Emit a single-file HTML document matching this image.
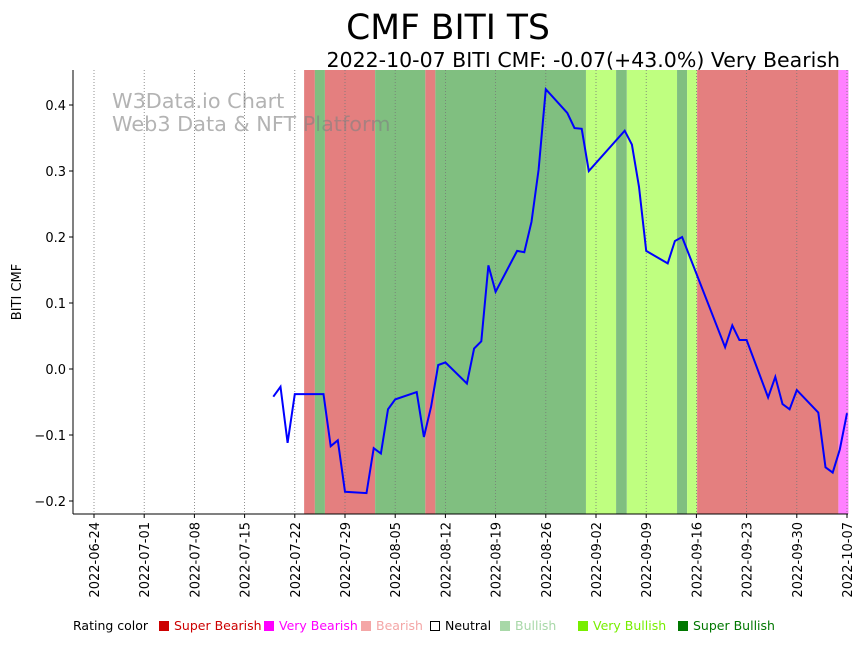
<!DOCTYPE html>
<html><head><meta charset="utf-8"><style>
body{margin:0;background:#fff;width:864px;height:641px;overflow:hidden;font-family:"Liberation Sans","DejaVu Sans",sans-serif}
</style></head><body>
<svg id="chart" width="864" height="641" xmlns="http://www.w3.org/2000/svg" font-family="DejaVu Sans, Liberation Sans, sans-serif">
<text x="448" y="39" font-size="34.5" text-anchor="middle">CMF BITI TS</text>
<text x="840" y="67" font-size="20.5" text-anchor="end">2022-10-07 BITI CMF: -0.07(+43.0%) Very Bearish</text>
<g id="bands"></g><g id="grid"></g>
<text x="112" y="108" font-size="20.8" fill="#808080" fill-opacity="0.6">W3Data.io Chart</text>
<text x="112" y="131" font-size="20.8" fill="#808080" fill-opacity="0.6">Web3 Data &amp; NFT Platform</text>
<g id="series"></g><g id="axes"></g>
<text transform="translate(21,292) rotate(-90)" font-size="13" text-anchor="middle">BITI CMF</text>
<g font-size="12.5" font-family="DejaVu Sans, Liberation Sans, sans-serif">
<text x="73" y="630">Rating color</text>
<rect x="159" y="621" width="10" height="10" fill="#cc0000"/><text x="174" y="630" fill="#cc0000">Super Bearish</text>
<rect x="264" y="621" width="10" height="10" fill="#ff00ff"/><text x="279" y="630" fill="#ff00ff">Very Bearish</text>
<rect x="361" y="621" width="10" height="10" fill="#f4a6a6"/><text x="376" y="630" fill="#f4a6a6">Bearish</text>
<rect x="430.5" y="621.5" width="9" height="9" fill="none" stroke="#000"/><text x="445" y="630">Neutral</text>
<rect x="500" y="621" width="10" height="10" fill="#a8d8a8"/><text x="515" y="630" fill="#a8d8a8">Bullish</text>
<rect x="578" y="621" width="10" height="10" fill="#77ee00"/><text x="593" y="630" fill="#77ee00">Very Bullish</text>
<rect x="678" y="621" width="10" height="10" fill="#007700"/><text x="693" y="630" fill="#007700">Super Bullish</text>
</g>
</svg>
<script>
const dates=["2022-07-19","2022-07-20","2022-07-21","2022-07-22","2022-07-26","2022-07-27","2022-07-28","2022-07-29","2022-08-01","2022-08-02","2022-08-03","2022-08-04","2022-08-05","2022-08-08","2022-08-09","2022-08-10","2022-08-11","2022-08-12","2022-08-15","2022-08-16","2022-08-17","2022-08-18","2022-08-19","2022-08-22","2022-08-23","2022-08-24","2022-08-25","2022-08-26","2022-08-29","2022-08-30","2022-08-31","2022-09-01","2022-09-06","2022-09-07","2022-09-08","2022-09-09","2022-09-12","2022-09-13","2022-09-14","2022-09-20","2022-09-21","2022-09-22","2022-09-23","2022-09-26","2022-09-27","2022-09-28","2022-09-29","2022-09-30","2022-10-03","2022-10-04","2022-10-05","2022-10-06","2022-10-07"];
const cmf=[-0.042,-0.027,-0.112,-0.038,-0.038,-0.117,-0.108,-0.186,-0.188,-0.120,-0.128,-0.061,-0.046,-0.035,-0.103,-0.057,0.006,0.010,-0.022,0.031,0.042,0.157,0.117,0.179,0.177,0.223,0.302,0.424,0.388,0.365,0.364,0.300,0.361,0.340,0.276,0.179,0.160,0.194,0.200,0.033,0.066,0.044,0.044,-0.043,-0.012,-0.053,-0.061,-0.032,-0.066,-0.149,-0.157,-0.122,-0.067];
const bandStart=[29.3,30.8,32.2,39.2,46.2,47.6,68.6,72.8,74.3,81.3,82.7,84.1,103.8];
const bandEnd=[30.8,32.2,39.2,46.2,47.6,68.6,72.8,74.3,81.3,82.7,84.1,103.8,105.2];
const bandRating=["sb","g","sb","g","sb","g","vg","g","vg","g","vg","sb","vb"];
const xTicks=["2022-06-24","2022-07-01","2022-07-08","2022-07-15","2022-07-22","2022-07-29","2022-08-05","2022-08-12","2022-08-19","2022-08-26","2022-09-02","2022-09-09","2022-09-16","2022-09-23","2022-09-30","2022-10-07"];
const yTicks=[-0.2,-0.1,0.0,0.1,0.2,0.3,0.4];
const yLabels=["\u22120.2","\u22120.1","0.0","0.1","0.2","0.3","0.4"];

const NS="http://www.w3.org/2000/svg";
const base=Date.UTC(2022,5,24);
const dayOf=s=>{const p=s.split("-");return (Date.UTC(+p[0],p[1]-1,+p[2])-base)/864e5;};
const X=d=>94+d*(847-94)/105;
const Y=v=>369-v*660;
const L=73,R=848,T=70,B=514;
const colors={sb:"#e47f7f",g:"#80bf80",vg:"#bfff80",vb:"#ff80ff"};
function mk(tag,attrs,parent){const e=document.createElementNS(NS,tag);for(const k in attrs)e.setAttribute(k,attrs[k]);parent.appendChild(e);return e;}
const bands=document.getElementById("bands");
bandStart.forEach((s,i)=>{
  const r=mk("rect",{x:X(s),y:T,width:X(bandEnd[i])-X(s),height:B-T,fill:colors[bandRating[i]]},bands);
  
  
});
const grid=document.getElementById("grid");
const axes=document.getElementById("axes");
xTicks.forEach(t=>{
  const x=X(dayOf(t));
  const g=mk("line",{x1:x,x2:x,y1:T,y2:B,stroke:"#777","stroke-width":0.8,"stroke-dasharray":"1,2"},grid);
  
  
  mk("line",{x1:x,x2:x,y1:B,y2:B+4,stroke:"#000"},axes);
  const tx=mk("text",{transform:`translate(${x+5},${B+8}) rotate(-90)`,"font-size":13,"text-anchor":"end"},axes);
  tx.textContent=t;
  
  
});
yTicks.forEach((v,i)=>{
  const y=Y(v);
  mk("line",{x1:L-4,x2:L,y1:y,y2:y,stroke:"#000"},axes);
  const tx=mk("text",{x:L-7,y:y+5,"font-size":13,"text-anchor":"end"},axes);
  tx.textContent=yLabels[i];
  
  
});
const ya=mk("line",{x1:L,x2:L,y1:T,y2:B,stroke:"#000","stroke-width":1},axes);


const xa=mk("line",{x1:L,x2:R,y1:B,y2:B,stroke:"#000","stroke-width":1},axes);


const pts=dates.map((d,i)=>X(dayOf(d)).toFixed(1)+","+Y(cmf[i]).toFixed(1)).join(" ");
const line=mk("polyline",{points:pts,fill:"none",stroke:"#0000ff","stroke-width":2,"stroke-linejoin":"miter"},document.getElementById("series"));


</script>
</body></html>
